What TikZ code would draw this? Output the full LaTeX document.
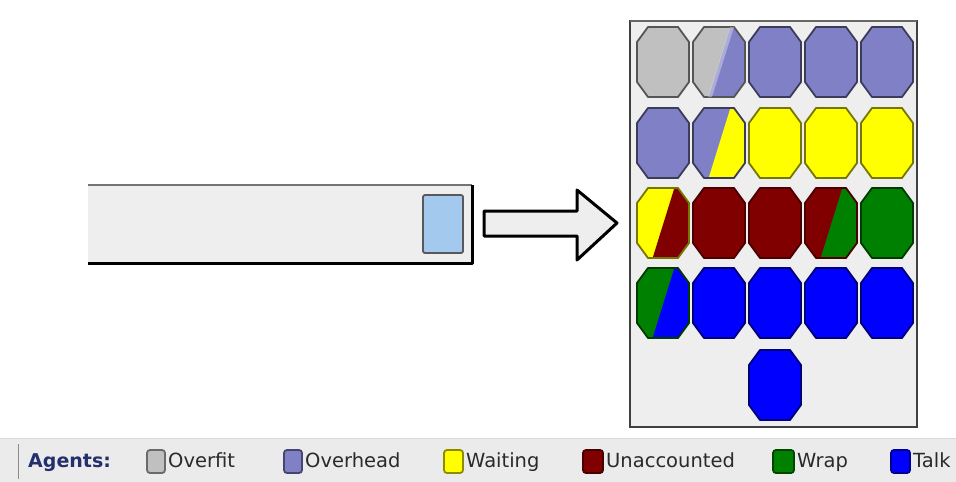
\documentclass[tikz,border=0pt]{standalone}
\usepackage{fontspec}
\newfontfamily\lgfont{DejaVu Sans}
\definecolor{cgray}{HTML}{C0C0C0}
\definecolor{cgrayo}{HTML}{555555}
\definecolor{covh}{HTML}{8080C6}
\definecolor{covho}{HTML}{3C3C5A}
\definecolor{cyel}{HTML}{FFFF00}
\definecolor{cyelo}{HTML}{767600}
\definecolor{cred}{HTML}{800000}
\definecolor{credo}{HTML}{4A0000}
\definecolor{cgrn}{HTML}{008000}
\definecolor{cgrno}{HTML}{003A00}
\definecolor{cblu}{HTML}{0000FF}
\definecolor{cbluo}{HTML}{00007A}
\definecolor{panelbg}{HTML}{EEEEEE}
\definecolor{barbg}{HTML}{EEEEEE}
\definecolor{selblue}{HTML}{A3C9EE}
\definecolor{legbg}{HTML}{EBEBEB}
\definecolor{legtxt}{HTML}{2A2A2A}
\definecolor{agtxt}{HTML}{24306E}
\newcommand\octpath[2]{(#1-15,#2-35) -- (#1+15,#2-35) -- (#1+26,#2-20) -- (#1+26,#2+20) -- (#1+15,#2+35) -- (#1-15,#2+35) -- (#1-26,#2+20) -- (#1-26,#2-20) -- cycle}
\newcommand\octone[4]{\filldraw[fill=#3,draw=#4,octline] \octpath{#1}{#2};}
\newcommand\octtwo[5]{%
  \begin{scope}
    \clip \octpath{#1}{#2};
    \fill[#3] \octpath{#1}{#2};
    \fill[#4] (#1+12,#2-37) -- (#1-11,#2+37) -- (#1+28,#2+37) -- (#1+28,#2-37) -- cycle;
  \end{scope}
  \draw[draw=#5,octline] \octpath{#1}{#2};}
\tikzset{
  octline/.style={line width=1.8pt,line join=round},
  swatch/.style={draw=#1!55!black,line width=1.8pt,rounded corners=3pt},
  legtext/.style={anchor=base west,inner sep=0pt,text=legtxt,font=\lgfont\fontsize{19.5}{20}\selectfont},
}
\begin{document}
\begin{tikzpicture}[x=1pt,y=-1pt]
\clip (0,0) rectangle (956,482);
\fill[white] (0,0) rectangle (956,482);
% left bar
\fill[barbg] (88,185) rectangle (472,263);
\draw[line width=2.5pt,black!55] (88,185) -- (472,185);
\draw[line width=3pt,black,line join=round] (472,185) -- (472,263) -- (88,263);
\filldraw[fill=selblue,draw=black!65,line width=1.8pt,rounded corners=2pt] (423,195) rectangle (463,253);
% arrow
\filldraw[fill=barbg,draw=black,line width=3pt,line join=round]
  (484,211) -- (577,211) -- (577,190) -- (617,223) -- (577,260) -- (577,236) -- (484,236) -- cycle;
% panel
\filldraw[fill=panelbg,draw=black!75,line width=2pt] (630,21) rectangle (917,427);
\draw[line width=2.5pt,black!60] (630,21) -- (917,21);
% row 1
\octone{663}{62}{cgray}{cgrayo}
\octtwo{719}{62}{cgray}{covh}{cgrayo}
\fill[white,opacity=0.35] (719+11,62-35) -- (719+15,62-35) -- (719-7,62+35) -- (719-11,62+35) -- cycle;
\octone{775}{62}{covh}{covho}
\octone{831}{62}{covh}{covho}
\octone{887}{62}{covh}{covho}
% row 2
\octone{663}{143}{covh}{covho}
\octtwo{719}{143}{covh}{cyel}{covho}
\octone{775}{143}{cyel}{cyelo}
\octone{831}{143}{cyel}{cyelo}
\octone{887}{143}{cyel}{cyelo}
% row 3
\octtwo{663}{223}{cyel}{cred}{cyelo}
\octone{719}{223}{cred}{credo}
\octone{775}{223}{cred}{credo}
\octtwo{831}{223}{cred}{cgrn}{credo}
\octone{887}{223}{cgrn}{cgrno}
% row 4
\octtwo{663}{303}{cgrn}{cblu}{cgrno}
\octone{719}{303}{cblu}{cbluo}
\octone{775}{303}{cblu}{cbluo}
\octone{831}{303}{cblu}{cbluo}
\octone{887}{303}{cblu}{cbluo}
% row 5
\octone{775}{385}{cblu}{cbluo}
% legend strip
\fill[legbg] (0,438) rectangle (956,482);
\draw[line width=1pt,black!15] (0,438) -- (956,438);
\draw[line width=1pt,black!45] (18,444) -- (18,479);
\node[anchor=base west,inner sep=0pt,text=agtxt,font=\lgfont\bfseries\fontsize{19}{20}\selectfont] (agents) at (28,467) {Agents:};
\filldraw[fill=cgray,swatch=cgray] (147,450) rectangle (165,473);
\node[legtext] (l1) at (168,467) {Overfit};
\filldraw[fill=covh,swatch=covh] (284,450) rectangle (302,473);
\node[legtext] (l2) at (305,467) {Overhead};
\filldraw[fill=cyel,swatch=cyel] (444,450) rectangle (463,473);
\node[legtext] (l3) at (466,467) {Waiting};
\filldraw[fill=cred,swatch=cred] (583,450) rectangle (603,473);
\node[legtext] (l4) at (606,467) {Unaccounted};
\filldraw[fill=cgrn,swatch=cgrn] (773,450) rectangle (794,473);
\node[legtext] (l5) at (797,467) {Wrap};
\filldraw[fill=cblu,swatch=cblu] (891,450) rectangle (910,473);
\node[legtext] (l6) at (913,467) {Talk};
\end{tikzpicture}
\end{document}
